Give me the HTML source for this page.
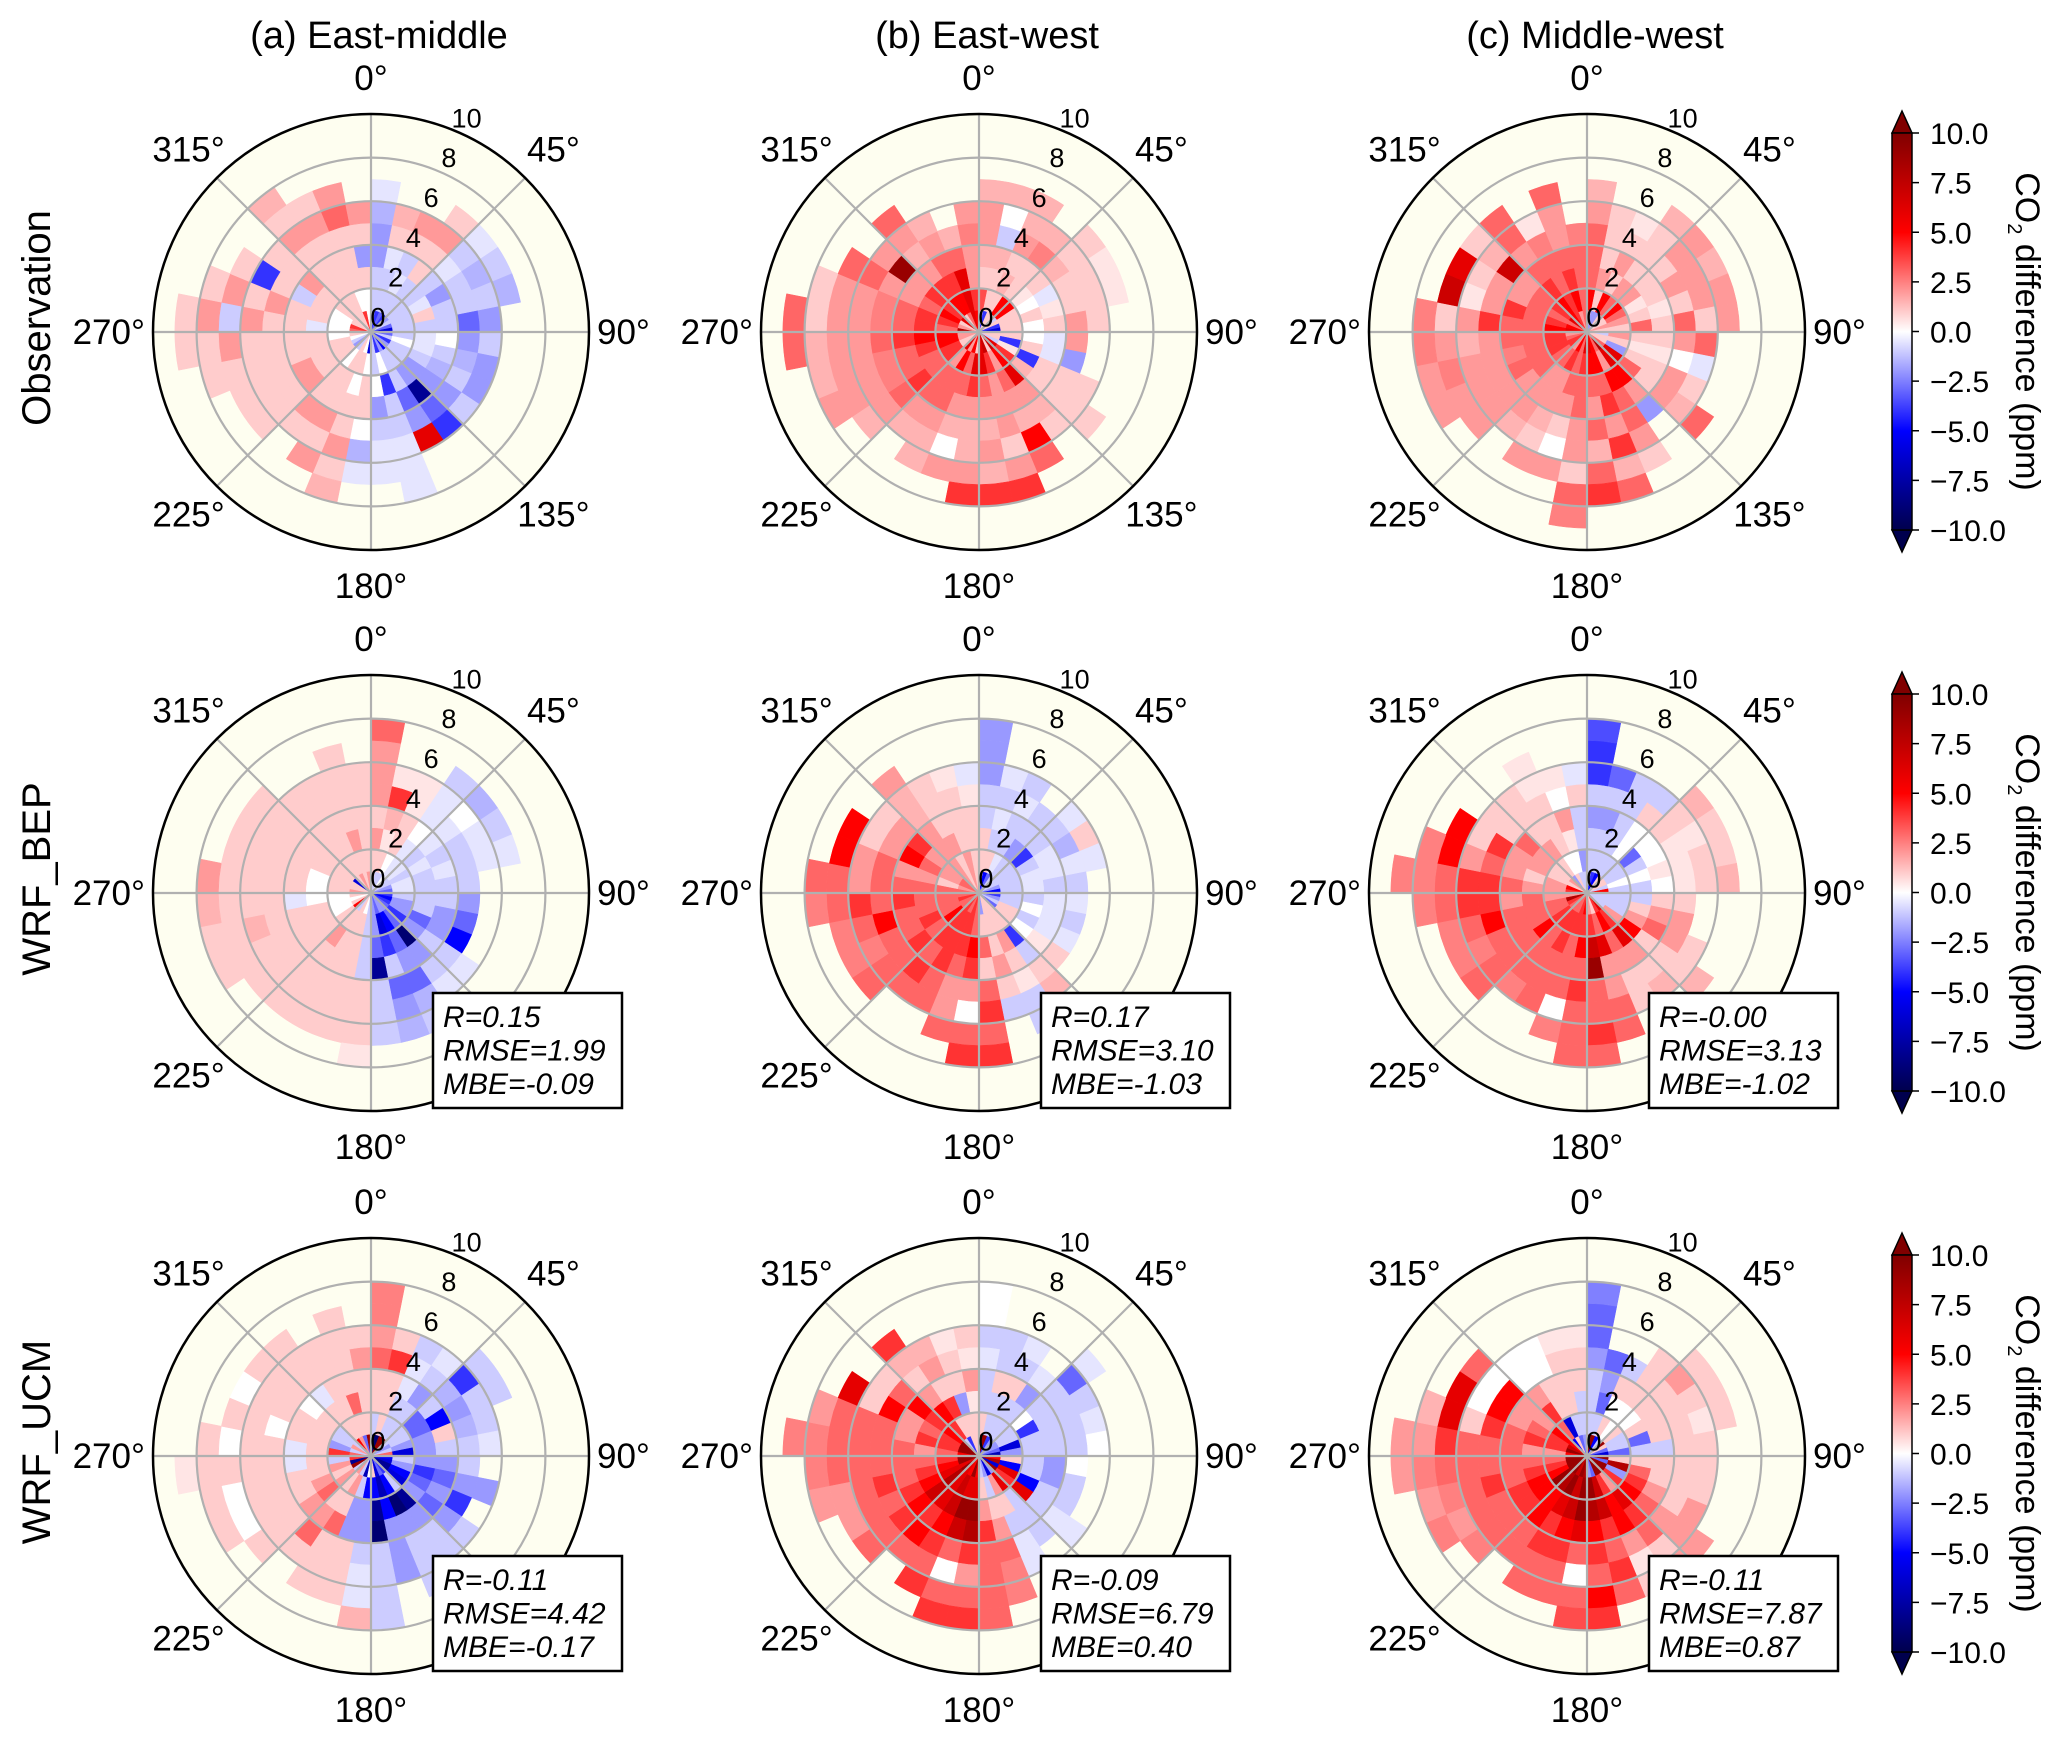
<!DOCTYPE html>
<html><head><meta charset="utf-8"><style>
html,body{margin:0;padding:0;background:#fff;}
svg text{font-family:"Liberation Sans",Arial,sans-serif;fill:#000;}
</style></head><body>
<svg id="fig" width="2067" height="1742" viewBox="0 0 2067 1742" xmlns="http://www.w3.org/2000/svg">
<defs>
<linearGradient id="seis" x1="0" y1="1" x2="0" y2="0">
<stop offset="0" stop-color="rgb(0,0,77)"/><stop offset="0.25" stop-color="rgb(0,0,255)"/>
<stop offset="0.5" stop-color="rgb(255,255,255)"/><stop offset="0.75" stop-color="rgb(255,0,0)"/>
<stop offset="1" stop-color="rgb(128,0,0)"/>
</linearGradient>
</defs>
</svg>
<script>
// 32 direction sectors of 11.25°, radial bins of 1 unit (0-10)
const dirBins = 32;
const maxR = 10;
const colTitles = ["(a) East-middle","(b) East-west","(c) Middle-west"];
const rowTitles = ["Observation","WRF_BEP","WRF_UCM"];
const cbTicks = [10.0,7.5,5.0,2.5,0.0,-2.5,-5.0,-7.5,-10.0];
const radialTicks = [0,2,4,6,8,10];
const angleTicks = [0,45,90,135,180,225,270,315];
const statsR = [null,null,null,"0.15","0.17","-0.00","-0.11","-0.09","-0.11"];
const statsRMSE = [null,null,null,"1.99","3.10","3.13","4.42","6.79","7.87"];
const statsMBE = [null,null,null,"-0.09","-1.03","-1.02","-0.17","0.40","0.87"];

const obsEM = [[-2,-1,-1,-2,-2,-1.5,-0.5],[-4,-1,-1,-0.5,1,1.5],[-3,-1,-0.5,-1,1,2],[-4,-1,-1,1,1,2,1],[-2,-1,-1,-1,-0.5,-1,-0.5],[-1,-1,-0.5,-2,-1,-1.5,-1],[-3,-1,1,-1,-1,-1,-1.5],[-6,-1,-1,-1,-3,-2],[-3,-1,-0.5,0,-2,-1],[-1,0,-0.5,-1,-1.5,-2],[-4,-1,-1,-1.5,-1,-2],[-2,-1,-2,-2,-2,-1],[-5,-1,-2,-8,-3,-4],[-2,-1,-1,-3,-2,6],[-4,0,-4,-1,-1,-0.5,-0.5,-0.5],[-1,-1,0,-2,-1,-0.5,-0.5],[-6,0,1,1,0,-1.5,-0.5],[0,1,0,1,1,2,1,1.5],[1,1,1,1,2,1,2],[-1,0,1,1,2,1],[-2,1,1,2,1,1,1],[-1,1,1,2,1,1,1],[0,1,1,1,1,1,1,1],[1,0,1,1,1,1,2,1,1],[3,0,-0.5,1,1,2,-1,2,1],[4,0,1,1,2,1,2,1],[1,0,1,-1,1,-4,1],[1,1,1,2,1,1],[1,1,1,1,1,2,1,1.5],[1,1,1,1,1,2,1],[4,0,1,1,1,3,2],[0,0,1,-2,1,2]];
const obsEW = [[0.5,3.5,1,1.5,2,2,1.5],[-4,1,1,1.5,-1,0,1.5],[1,1,1.5,1,2,1.5,1.5],[1,5,1,1,2.5,1.5],[-1,5,0.5,1,1.5,1,1],[1,1,0,-0.5,1,1,0.5],[-4,1,1,0.5,1,1,0.5],[-6,1,0,1,2,1],[1,1,0,-0.5,2],[1,-4,1,-0.5,-2],[-1,0.5,-4,1,1,1],[6,4,1.5,1,1,1,1],[7,5,6,2,1.5,1],[1,2,3,2,1.5,5,3],[7,4,2,2,2,1,2,4],[6,6,3,2,1.5,2,1.5,4],[1,6,4,2,1.5,1.5,2,4],[5,3,3,2,1.5,0,2],[2,5,3,3,2,1.5,1.5],[6,2,3,3,2,1.5],[1,4,3,4,3,2,1.5],[1,4,3,3,2.5,2,2,2],[2,5,4,3,2.5,2,2,1.5],[2,5,5,4,3,2,2,1.5,3],[8,3,4,3,2.5,2,2,1,3],[2,4,4,3,2.5,2,2,1],[1,5,3,2,2,3,3],[6,4,4,2,9,2],[1,5,4,2,1.5,2,3],[3,5,4,3,2,1.5],[6,6,6,3,1.5],[5,4,2,2,2.5,2]];
const obsMW = [[1,5,3,3,3,2,1.5],[-2,1,2,1,1,1],[-2,5,1,2,1,0.5],[1,3,2,1,1,1,1.5],[1,5,2,1,1,2,2],[1,3,0.5,1,2,2,1.5],[2,2,1,0.5,1,2,2],[1,1,3,1,3,1,2],[-1,2,1,1,2,3],[1,1,0.5,0.5,0,-0.5],[1,-2,1,1,2,1],[3,6,3,1,2,1.5,3],[8,6,5,2,-2],[3,2,5,3,3,2,1],[5,5,3,4,2,4,1.5,3],[6,5,3,2,3,1.5,3,4],[6,4,3,3,2,2,1,3,2.5],[3,3,3,2,1,0,2],[5,4,2,2,1.5,1,2],[2,3,2,2,2,1.5],[4,3,3,2,2,2,2],[4,4,3,3,2,2,2,2],[3,4,3,2.5,2,2,2.5,2],[2,4,3,3,2,1.5,2,2.5],[6,5,3,3,4,2,1,2.5],[5,4,3,4,2,0.5,7],[3,3,3,2,2,1,6],[6,4,3,2,7,1.5,1],[5,5,4,3,2,3,3],[4,4,3,3,2.5,0.5],[2,5,4,3,2,2,3],[3,3,3,3,2.5]];
const bepEM = [[1,1,2,1,2,2,2,3],[-1,1,0.5,1.5,4,0.5],[-1,0,1,1,0.5,0.5],[0,-0.5,-0.5,0,-0.5,-0.5,-1],[-1,-0.5,-1,-0.5,-0.5,0,-1.5],[-1,-1,-0.5,-1,-1,-0.5,-1],[-2,-0.5,-1,-0.5,-1,-0.5,-0.5],[-3,-0.5,-1,-1,-1],[-4,-1,-1,-1,-2],[-5,-2,-1,-2,-3],[-4,-2,-3,-2,-5],[-3,-4,-2,-1,-1,-0.5],[-2,-3,-9,-2,-1,-0.5],[-2,-5,-3,-2,-3,-1.5,-1],[-3,-6,-4,-1,-3,-2,-1.5],[-2,-2,-3,-8,-1,-1,-1],[-1,-1,-1,-1,1,1,1,0.5],[0,1,1,1,1,1,1],[1,1,1,1,1,1,1],[-1,1,2,1,1,1,1],[5,1,1,1,1,1,1],[1,0,1,1,1,1,1,1],[0,0,1,1,1,1.5,1,1],[1,0,0,-0.5,1,1,1,1.5],[2,1,0,1,1,1,1,2],[1,1,0,1,1,1,1],[1,1,1,1,1,1,1],[-6,1,1,1,1,1,1],[1,1,1,1,1,1],[2,1,1,1,1,1],[1,1,2,1,1,1,1],[2,1,1,1,1,1]];
const bepEW = [[1,1,1,-1,-1,-2,-2,-2],[-5,1,-1,-0.5,-1,-0.5],[-3,-0.5,-1,-1,-0.5,-1],[-1,-1,-2,-1,-1],[-1,-1,-4,-1,-1,-0.5],[-1,-1,-1,-0.5,-1.5,1],[-2,-1,-0.5,-0.5,-0.5,-0.5],[-5,-1,-0.5,-1,-1],[-4,-1,-1,-0.5,-0.5],[-2,-1,0,-0.5,-1],[-1,1,-1,-0.5,-0.5],[-3,1,0,0.5,1],[1,1,-4,-1,1,1.5],[1,1,2,1,0.5,-1,-1],[1,1,1,2,1,-1],[-2,1,3,1,3,4,3,4],[3,3,5,4,2,0,3,4],[4,4,4,3,2,2,3],[3,4,4,4,3,3],[4,4,4,3,4,3],[3,5,3,4,3,3,3],[3,3,4,3,3,2.5,2.5],[4,3,3,3,5,3,2.5],[3,3,3,4,3,4,3,2.5],[3,3,3,3,3,2,3,3],[2,1,2,2,3,2,5],[3,2,3,5,2,1,5],[3,2,2,4,2,1],[2,2,2,2,1.5,1.5,2],[1,1,2,1,1,1],[2,2,1,1,1,0.5],[1,1,1,1,0.5,-0.5]];
const bepMW = [[-1,-1,-1,-2,-1,-4,-4,-3.5],[-4,-1,-1,-2,-1,-3],[-5,-1,-1,-1,-1,-1],[1,-1,0,0,1,-1],[1,-1,-3,0,1,1,1.5],[1,-1,-1,0,0.5,0.5,1],[-1,0,0,0.5,0.5,1,1],[5,-1,-1,0,0.5,1,1.5],[-1,-1,-1,1,1],[-1,-1,1,2,2],[-1,-1,2,3,2,1],[-1,2,5,1,1,1,1.5],[6,4,6,2,1,1.5],[4,5,3,2,1,1],[1,3,6,2,2,3,3],[2,4,7,9,3,3,4,3],[5,4,5,3,4,3,3,3],[4,4,3,3,3,0,2.5],[3,4,4,3,3,3],[3,4,3,3,3,2.5],[3,4,5,3,3,3,3],[4,3,3,3,3,2.5,2.5],[8,3,3,3,5,3,2.5],[2,2,3,2,4,4,3,2.5],[4,2,2,3,4,4,3,2.5,2.5],[5,2,1,2,3,2,5,2.5],[1,1,2,2,4,1,5],[2,1,2,3,1,1],[-2,1,2,1,1,1],[1,0,1,1,1,0.5,0.5],[-1,0,0.5,2,0,0.5],[-1,-2,-1,-1,1,-0.5]];
const ucmEM = [[-9,-1,1,1,3,2,2.5,2.5],[-9,1,1,1,4,1],[9,-1,-1,-0.5,-0.5,-1],[9,-1,-1,-2,-1,-0.5],[-1,-1,-3,-1,-1.5,-4,-1],[-2,-1,-3,-5,-2,-1,-1],[-1,-2,-2,1,-1.5,-1],[3,-6,-2,-1,-1,-0.5],[-5,-1,-2,-2,-1],[-6,-2,-4,-3,-2,-2],[-8,-5,-3,-2,-4],[-8,-6,-2,-3,-2,-1],[-4,-1,-8,-2,-1,-1],[-3,-5,-9,-2,-1,-1,-1],[-6,-7,-5,-2,-2,-2],[1,-5,-8,-9,-1,-1,-1,-1],[0,-5,-2,-2,-1,-0.5,-0.5,1.5],[-7,-1,-2,-2,1,1,1],[-1,2,1,3,1,1,1],[2,1,1,2,3,1],[-1,2,3,2,1,1,1],[9,1,2,1,1,1,0,1],[-8,2,1,1,1,1,0,1],[4,-1,1,-0.5,1,1,1,1,0.5],[3,4,1,-0.5,1,1,0,1],[-1,-2,1,1,0,1,1],[2,-1,1,1,1,1,0],[-1,-1,1,0,1,1,1],[5,1,1,-0.5,1,1,1],[2,1,1,1,1,1],[-3,1,3,1,1,1,1],[9,1,1,1,2,1]];
const ucmEW = [[9,1,-1,-1,-0.5,-1,0,0],[9,-1,-1,1,-1,-1],[-4,-1,-1,1,-1,-0.5],[-2,-1,-1,-2,-0.5],[-2,-1,0,-1,-1,-3,-0.5],[-2,-1,-4,-1,-1,-1],[-3,-6,-1,-1,-1,-0.5],[-7,-2,-1,-1,-1,0],[5,1,-1,-2,0],[8,-5,-1,-2,-1],[-6,6,-5,-1,-1],[9,4,6,-1,-0.5,-0.5],[-2,6,-1,-1,-1],[-6,2,1,-1,-0.5,-0.5],[-2,-1,1,2,3,2.5,2.5],[-1,1,2,4,3,3,3,3],[5,6,9,8,4,2,3,4],[9,6,9,7,3,0,3,4],[5,7,7,5,4,3,4],[6,6,6,4,5,3],[9,8,7,5,4,3,3],[6,6,5,4,3,3,2],[9,5,4,3,4,3,2,2],[9,4,3,3,3,3,3,2.5],[5,3,2,3,3,3,3,2.5,2.5],[9,4,4,2,3,3,3,2],[9,4,3,2,5,1,6],[9,5,4,5,3,1],[-1,4,5,2,1,1.5,4],[-4,1,4,1,2,1.5],[1,1,-2,1,1,0.5],[1,1,0.5,2,0.5,1]];
const ucmMW = [[9,-1,-1,-1,-2,-3,-3,-2.5],[9,-1,-3,-2,-3],[-5,1,0,1,-1],[-1,0,0,1,1,1],[9,1,0,1,1,2,1],[1,-1,1,1,1,1,1],[-3,-1,-3,1,1,0.5,1],[-6,-3,-1,-1,1,1],[9,1,1,1,1,1],[-3,8,3,1,1,1],[9,-2,4,2,1,2],[9,4,5,3,2,2,2],[9,2,6,4,3,1,2,1.5],[9,4,5,5,2,0.5,1],[-3,7,7,4,3,4,3],[-2,9,8,5,4,3,5,4],[8,9,9,6,3,0,3,3.5],[9,7,7,5,4,3,3],[7,9,6,4,4,3,3],[9,8,5,5,3,3],[9,9,5,4,3,3,2.5],[9,5,5,4,3,3,2,2.5],[9,4,4,3,4,3,2.5,2],[9,3,3,3,3,3,3,2.5,2],[5,2,2,3,3,3,4,2,2],[9,4,4,3,4,1,6,1.5],[7,4,3,2,5,0,6],[5,5,2,2,5,0,3],[-5,3,4,2,0,0],[1,-6,1,1,0,0],[-3,-1,1,1,1,0.5],[-2,-1,-1,1,1,0.5]];
const panelData = [obsEM,obsEW,obsMW,bepEM,bepEW,bepMW,ucmEM,ucmEW,ucmMW];

const svg = document.getElementById('fig');
const NS = 'http://www.w3.org/2000/svg';
const colX = [371,979,1587];
const rowY = [332,893,1456];
const R = 218;
function mk(tag, attrs, parent){ const e=document.createElementNS(NS,tag); for(const k in attrs) e.setAttribute(k,attrs[k]); (parent||svg).appendChild(e); return e; }
function rScale(v){ return v/maxR*R; }
function aScale(d){ return d*Math.PI/180; }
function pt(cx,cy,r,deg){ const a=aScale(deg); return [cx+r*Math.sin(a), cy-r*Math.cos(a)]; }
function lerp(a,b,t){return a+(b-a)*t;}
function cmap(v){
  let t=(Math.max(-10,Math.min(10,v))+10)/20;
  const st=[[0,[0,0,77]],[0.25,[0,0,255]],[0.5,[255,255,255]],[0.75,[255,0,0]],[1,[128,0,0]]];
  for(let i=0;i<4;i++){ if(t<=st[i+1][0]){ const u=(t-st[i][0])/(st[i+1][0]-st[i][0]); const c=st[i][1].map((x,j)=>Math.round(lerp(x,st[i+1][1][j],u))); return 'rgb('+c.join(',')+')'; } }
  return 'rgb(128,0,0)';
}

for(let row=0; row<3; row++){
  for(let col=0; col<3; col++){
    const idx=row*3+col, cx=colX[col], cy=rowY[row];
    const g=mk('g',{});
    
    
    const bg=mk('circle',{cx:cx,cy:cy,r:R,fill:'#fefef0'},g);
    
    
    const data=panelData[idx];
    const w=360/dirBins;
    for(let d=0; d<data.length; d++){
      for(let k=0; k<data[d].length; k++){
        const v=data[d][k]; if(v===null) continue;
        const r0=rScale(k), r1=rScale(k+1), a0=d*w, a1=(d+1)*w;
        const p1=pt(cx,cy,r0,a0),p2=pt(cx,cy,r1,a0),p3=pt(cx,cy,r1,a1),p4=pt(cx,cy,r0,a1);
        const path=mk('path',{d:`M${p1[0]},${p1[1]} L${p2[0]},${p2[1]} A${r1},${r1} 0 0 1 ${p3[0]},${p3[1]} L${p4[0]},${p4[1]} A${r0},${r0} 0 0 0 ${p1[0]},${p1[1]} Z`,fill:cmap(v),stroke:cmap(v),'stroke-width':0.5},g);
        
        
      }
    }
    for(const t of radialTicks.slice(1,-1)){
      const c=mk('circle',{cx:cx,cy:cy,r:rScale(t),fill:'none',stroke:'#b0b0b0','stroke-width':2.2},g);
      
      
    }
    for(const a of angleTicks){
      const p=pt(cx,cy,R,a);
      const l=mk('line',{x1:cx,y1:cy,x2:p[0],y2:p[1],stroke:'#b0b0b0','stroke-width':2.2},g);
      
      
    }
    const ring=mk('circle',{cx:cx,cy:cy,r:R,fill:'none',stroke:'#000','stroke-width':2.5},g);
    
    
    for(const t of radialTicks){
      const p=pt(cx,cy,rScale(t)+17,24);
      const tx=mk('text',{x:p[0],y:p[1]+10,'font-size':27,'text-anchor':'middle'},g);
      tx.textContent=String(t);
      
      
    }
    for(const a of angleTicks){
      let anchor='middle', rr=258;
      if(a===90){anchor='start'; rr=226;}
      if(a===270){anchor='end'; rr=226;}
      if(a===0||a===180){rr=254;}
      const p=pt(cx,cy,rr,a);
      const tx=mk('text',{x:p[0],y:p[1]+12,'font-size':35,'text-anchor':anchor},g);
      tx.textContent=a+'°';
      
      
    }
    if(statsR[idx]!==null){
      const bx=cx+62, by=cy+100;
      const box=mk('rect',{x:bx,y:by,width:189,height:115,fill:'#fff',stroke:'#000','stroke-width':2.5},g);
      
      
      const lines=['R='+statsR[idx],'RMSE='+statsRMSE[idx],'MBE='+statsMBE[idx]];
      lines.forEach((s,i)=>{
        const tx=mk('text',{x:bx+10,y:by+34+i*33.5,'font-size':30,'font-style':'italic'},g);
        tx.textContent=s;
        
        
      });
    }
  }
}
colTitles.forEach((t,i)=>{
  const tx=mk('text',{x:colX[i]+8,y:48,'font-size':38,'text-anchor':'middle'});
  tx.textContent=t;
  
  
});
rowTitles.forEach((t,i)=>{
  const tx=mk('text',{x:0,y:0,'font-size':40,'text-anchor':'middle',transform:`translate(50,${rowY[i]-14}) rotate(-90)`});
  tx.textContent=t;
  
  
});
for(let row=0; row<3; row++){
  const top=133+row*561, bot=530+row*561, x0=1892, x1=1912;
  const g=mk('g',{});
  
  
  mk('polygon',{points:`${x0},${top} ${(x0+x1)/2},${top-22} ${x1},${top}`,fill:'rgb(128,0,0)',stroke:'#000','stroke-width':1.5},g);
  mk('polygon',{points:`${x0},${bot} ${(x0+x1)/2},${bot+22} ${x1},${bot}`,fill:'rgb(0,0,77)',stroke:'#000','stroke-width':1.5},g);
  mk('rect',{x:x0,y:top,width:x1-x0,height:bot-top,fill:'url(#seis)',stroke:'#000','stroke-width':1.5},g);
  cbTicks.forEach(v=>{
    const y=top+(10-v)/20*(bot-top);
    mk('line',{x1:x1,y1:y,x2:x1+7,y2:y,stroke:'#000','stroke-width':1.5},g);
    const tx=mk('text',{x:1930,y:y+11,'font-size':30},g);
    tx.textContent=(v<0?'\u2212'+Math.abs(v).toFixed(1):v.toFixed(1));
    
    
  });
  const lab=mk('text',{x:0,y:0,'font-size':34,'text-anchor':'middle',transform:`translate(2016,${(top+bot)/2}) rotate(90)`},g);
  lab.innerHTML='CO<tspan font-size="20" dy="8">2</tspan><tspan dy="-8"> difference  (ppm)</tspan>';
  
  
}
</script>
</body></html>
